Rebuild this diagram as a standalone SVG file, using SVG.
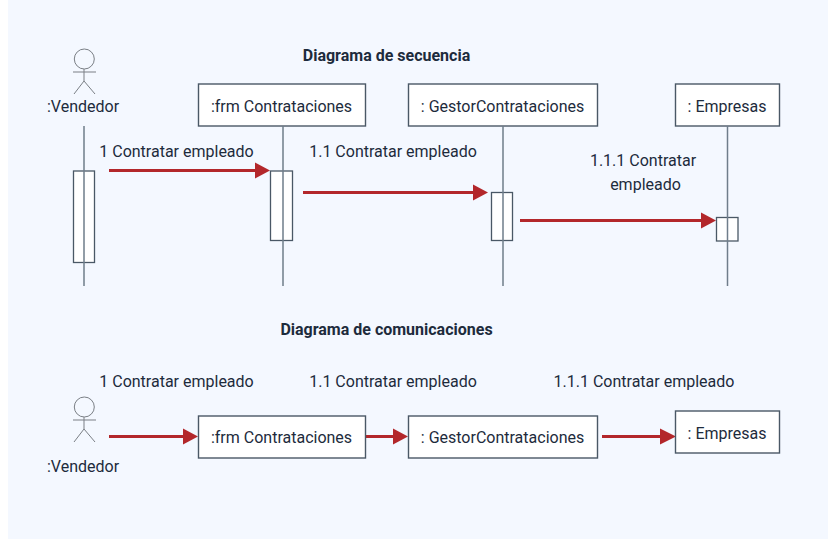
<svg xmlns="http://www.w3.org/2000/svg" width="828" height="539" viewBox="0 0 828 539">
<style>
text{font-family:Roboto,"Liberation Sans",sans-serif;font-size:16px;fill:#1d2b3c;text-anchor:middle}
.t{font-weight:700;font-size:16px}
.b{fill:#fff;stroke:#4a5866;stroke-width:1.4}
.l{fill:none;stroke:#6f7d8b;stroke-width:1.5}
.c{fill:#fff;stroke:#4a5866;stroke-width:1.3}
.s{fill:none;stroke:#7a7f85;stroke-width:1}
.a{fill:none;stroke:#b3272b;stroke-width:3}
.h{fill:#b3272b}
</style>
<defs>
<g id="actor"><circle cx="84.300" cy="59" r="10" fill="#fff" class="s"/><path class="s" d="M84 69V81M73 72H96M84 81L74 94M84 81L95 94"/></g>
</defs>
<rect x="8" y="0" width="820" height="539" fill="#f4f8ff"/>
<text class="t" x="386.500" y="61">Diagrama de secuencia</text>
<text class="t" x="386.500" y="335">Diagrama de comunicaciones</text>
<g id="connectors">
<path class="a" d="M109 170.500H258M303 192.500H475M520 220.500H704M109 436.500H185M365 436.500H395M602 436.500H663"/>
<path class="h" d="M255 162.500L270 170.500L255 178.500ZM473 184.500L488 192.500L473 200.500ZM701 212.500L716 220.500L701 228.500ZM183 428.500L198 436.500L183 444.500ZM393 428.500L408 436.500L393 444.500ZM660 428.500L676 436.500L660 444.500Z"/>
</g>
<g id="seq-actor"><use href="#actor"/><text x="83" y="112">:Vendedor</text></g>
<g id="seq-frm"><rect class="b" x="198.500" y="84" width="167" height="42"/><text x="281.500" y="112">:frm Contrataciones</text></g>
<g id="seq-gestor"><rect class="b" x="408.500" y="84" width="189" height="42"/><text x="502.500" y="112">: GestorContrataciones</text></g>
<g id="seq-empresas"><rect class="b" x="675.500" y="84" width="104" height="42"/><text x="727" y="112">: Empresas</text></g>
<g id="lifelines">
<rect class="c" x="73.500" y="171" width="21" height="91.500"/>
<rect class="c" x="270.500" y="171" width="22" height="69.500"/>
<rect class="c" x="491.500" y="192.500" width="21" height="48"/>
<rect class="c" x="716.500" y="217.500" width="21.500" height="23.500"/>
<path class="l" d="M84 126V286M283 126V286M503 126V286M727.500 126V286"/>
</g>
<text x="176.500" y="157">1 Contratar empleado</text>
<text x="393" y="157">1.1 Contratar empleado</text>
<text x="643" y="166">1.1.1 Contratar</text>
<text x="645.500" y="190">empleado</text>
<g id="com-actor"><use href="#actor" y="348"/><text x="83" y="472">:Vendedor</text></g>
<g id="com-frm"><rect class="b" x="198.500" y="416" width="167" height="42"/><text x="281.500" y="443">:frm Contrataciones</text></g>
<g id="com-gestor"><rect class="b" x="408.500" y="416" width="189" height="42"/><text x="502.500" y="443">: GestorContrataciones</text></g>
<g id="com-empresas"><rect class="b" x="675.500" y="411" width="104" height="42"/><text x="727" y="439">: Empresas</text></g>
<text x="176.500" y="387">1 Contratar empleado</text>
<text x="393" y="387">1.1 Contratar empleado</text>
<text x="644" y="387">1.1.1 Contratar empleado</text>
</svg>
